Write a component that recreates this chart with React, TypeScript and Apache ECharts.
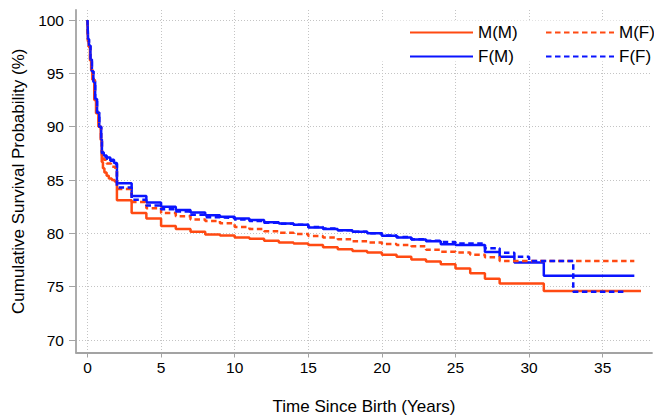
import React, { useEffect, useRef } from 'react';
import * as echarts from 'echarts';

const FONT = '"Liberation Sans", Arial, Helvetica, sans-serif';

const seriesNames = ['M(M)', 'F(M)', 'M(F)', 'F(F)'];
const xTicks = [0, 5, 10, 15, 20, 25, 30, 35];
const yTicks = [70, 75, 80, 85, 90, 95, 100];

// [time in years, cumulative survival %]
const mmData: [number, number][] = [
  [0, 100], [0.03, 98], [0.08, 97.5], [0.17, 96.2], [0.25, 95.3], [0.33, 94.4], [0.46, 92.5],
  [0.58, 91.25], [0.74, 90], [0.9, 88.75], [0.97, 86.7], [1.05, 86.1], [1.15, 85.7], [1.3, 85.4],
  [1.45, 85.15], [1.65, 85.0], [1.85, 84.85], [2, 83.1], [3, 81.9], [4, 81.4], [5, 80.7], [6, 80.4],
  [7, 80.15], [8, 79.9], [9, 79.8], [10, 79.6], [11, 79.5], [12, 79.3], [13, 79.15], [14, 79.05],
  [15, 78.9], [16, 78.7], [17, 78.5], [18, 78.35], [19, 78.2], [20, 78.0], [21, 77.8], [22, 77.55],
  [23, 77.35], [24, 77.1], [25, 76.7], [26, 76.25], [27, 75.75], [28, 75.3], [31, 74.6], [37.6, 74.6],
];

const fmData: [number, number][] = [
  [0, 100], [0.04, 98.2], [0.1, 97.6], [0.2, 96.3], [0.3, 95.2], [0.4, 94.3], [0.52, 92.6],
  [0.65, 91.3], [0.8, 90], [0.93, 88.8], [0.98, 87.6], [1.1, 87.3], [1.3, 87.1], [1.55, 86.9],
  [1.8, 86.6], [2, 84.7], [3, 83.5], [4, 82.9], [5, 82.5], [6, 82.2], [7, 81.95], [8, 81.7],
  [9, 81.55], [10, 81.4], [11, 81.25], [12, 81.05], [13, 80.93], [14, 80.8], [15, 80.55], [16, 80.4],
  [17, 80.3], [18, 80.16], [19, 80.0], [20, 79.77], [21, 79.6], [22, 79.43], [23, 79.25], [24, 78.97],
  [25, 78.9], [27, 78.25], [28, 77.8], [29, 77.27], [31, 76.03], [37.15, 76.03],
];

const mfData: [number, number][] = [
  [0, 100], [0.03, 98.1], [0.09, 97.5], [0.18, 96.2], [0.27, 95.3], [0.36, 94.4], [0.49, 92.6],
  [0.61, 91.3], [0.77, 90], [0.92, 88.8], [0.98, 87.3], [1.1, 86.9], [1.3, 86.55], [1.6, 86.25],
  [1.9, 85.95], [2, 84.15], [3, 82.95], [4, 82.35], [5, 81.9], [6, 81.6], [7, 81.3], [8, 81.17],
  [9, 80.94], [10, 80.6], [11, 80.4], [12, 80.2], [13, 80.05], [14, 79.95], [15, 79.75], [16, 79.6],
  [17, 79.44], [18, 79.25], [19, 79.15], [20, 79.0], [21, 78.9], [22, 78.8], [23, 78.47], [24, 78.28],
  [25, 78.2], [26, 78.0], [27, 77.75], [28, 77.42], [37.15, 77.42],
];

const ffData: [number, number][] = [
  [0, 100], [0.04, 98.2], [0.1, 97.6], [0.2, 96.3], [0.3, 95.2], [0.4, 94.2], [0.52, 92.6],
  [0.65, 91.3], [0.8, 90], [0.93, 88.8], [0.98, 87.5], [1.1, 87.2], [1.3, 87.0], [1.55, 86.8],
  [1.8, 86.5], [2, 84.3], [3, 83.15], [4, 82.6], [5, 82.25], [6, 82.05], [7, 81.75], [8, 81.5],
  [9, 81.45], [10, 81.3], [11, 81.15], [12, 81.0], [13, 80.9], [14, 80.8], [15, 80.6], [16, 80.45],
  [17, 80.3], [18, 80.15], [19, 80.0], [20, 79.8], [21, 79.65], [22, 79.45], [23, 79.3], [24, 79.2],
  [25, 79.06], [27, 78.6], [28, 78.19], [29, 77.8], [30, 77.42], [33, 74.53], [36.6, 74.53],
];

const ORANGE = '#ff4a12';
const BLUE = '#0a14ff';

export default function App() {
  const ref = useRef<HTMLDivElement>(null);

  useEffect(() => {
    if (!ref.current) return;
    const chart = echarts.init(ref.current, null, { renderer: 'svg' });

    const axisLine = { show: true, onZero: false, lineStyle: { color: '#a3a3a3', width: 1.8 } };
    const splitLine = { show: true, lineStyle: { color: '#c4c4c4', width: 1, type: [1, 2] } };

    const makeSeries = (name: string, data: [number, number][], color: string, dashed: boolean) => ({
      name,
      type: 'line',
      step: 'end',
      data,
      symbol: 'none',
      showSymbol: false,
      color,
      lineStyle: { color, width: 2.5, type: dashed ? [5.5, 3.5] : 'solid' },
      emphasis: { disabled: true },
    });

    const legendBase = {
      orient: 'vertical',
      top: 24,
      itemHeight: 4,
      itemGap: 7,
      padding: 0,
      textStyle: { fontSize: 17, color: '#000', fontFamily: FONT },
      itemStyle: { opacity: 0 },
      selectedMode: false,
    };

    chart.setOption({
      animation: false,
      textStyle: { fontFamily: FONT },
      grid: { left: 76, right: 2, top: 10, bottom: 63.5, containLabel: false, outerBoundsMode: 'none' },
      xAxis: {
        type: 'value',
        min: -0.78,
        max: 38.35,
        name: 'Time Since Birth (Years)',
        nameLocation: 'middle',
        nameGap: 45,
        nameTextStyle: { fontSize: 17, color: '#000', fontFamily: FONT },
        axisLine,
        axisTick: { show: true, length: 5, customValues: xTicks, lineStyle: { color: '#a3a3a3', width: 1 } },
        axisLabel: { customValues: xTicks, fontSize: 15.5, color: '#000', margin: 7, fontFamily: FONT },
        splitLine,
      },
      yAxis: {
        type: 'value',
        min: 68.83,
        max: 100.94,
        name: 'Cumulative Survival Probability (%)',
        nameLocation: 'middle',
        nameRotate: 90,
        nameGap: 45,
        nameTextStyle: { fontSize: 17, color: '#000', fontFamily: FONT },
        axisLine,
        axisTick: { show: true, length: 7, customValues: yTicks, lineStyle: { color: '#a3a3a3', width: 1 } },
        axisLabel: { customValues: yTicks, fontSize: 15.5, color: '#000', margin: 12, fontFamily: FONT },
        splitLine,
      },
      legend: [
        { ...legendBase, left: 409, itemWidth: 63, data: [seriesNames[0], seriesNames[1]] },
        { ...legendBase, left: 545, itemWidth: 68, data: [seriesNames[2], seriesNames[3]] },
      ],
      graphic: [
        {
          type: 'rect',
          z: 1,
          silent: true,
          shape: { x: 380, y: 20.5, width: 272, height: 41 },
          style: { fill: '#ffffff' },
        },
      ],
      series: [
        makeSeries(seriesNames[0], mmData, ORANGE, false),
        makeSeries(seriesNames[1], fmData, BLUE, false),
        makeSeries(seriesNames[2], mfData, ORANGE, true),
        makeSeries(seriesNames[3], ffData, BLUE, true),
      ],
    });

    return () => chart.dispose();
  }, []);

  return (
    <div
      ref={ref}
      style={{ position: 'fixed', left: 0, top: 0, width: 654, height: 416, background: '#fff' }}
    />
  );
}
